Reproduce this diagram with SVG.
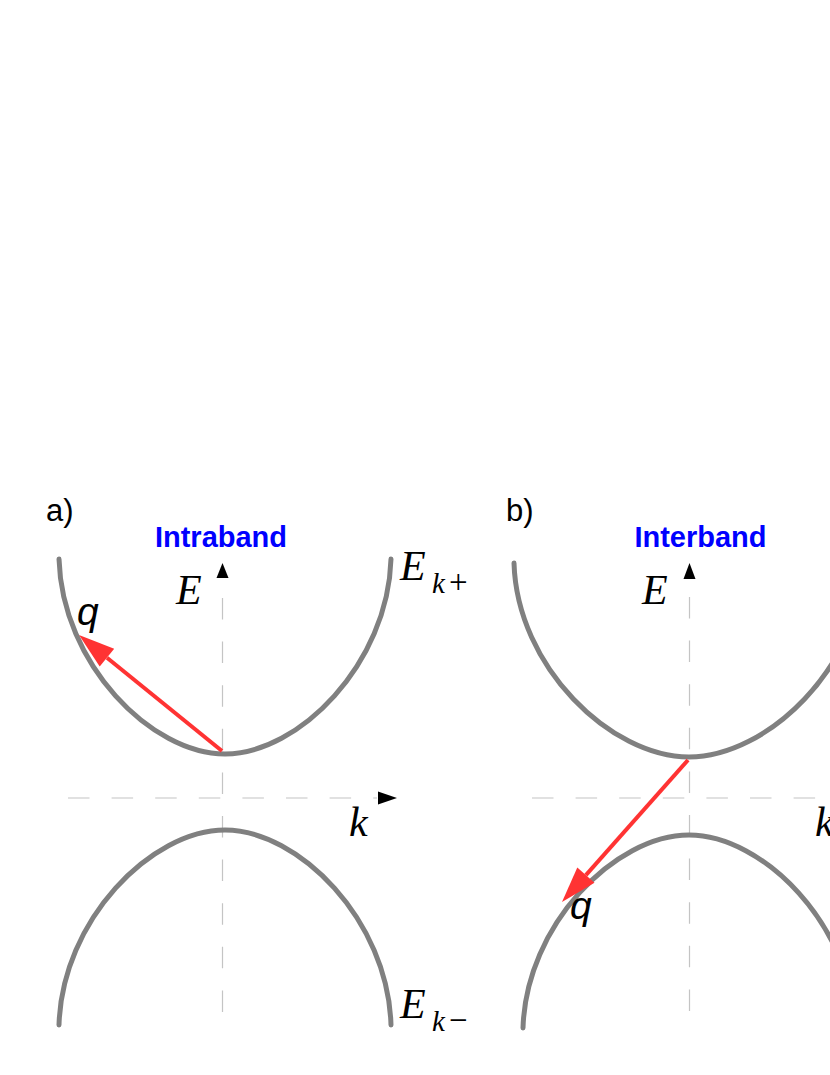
<svg xmlns="http://www.w3.org/2000/svg" width="830" height="1075" viewBox="0 0 830 1075">
  <style>
    .band { fill: none; stroke: #808080; stroke-width: 5; stroke-linecap: round; }
    .axis { fill: none; stroke: #c4c4c4; stroke-width: 1.2; stroke-dasharray: 21.5 22.1; }
    .axhead { fill: #000000; }
    .q { fill: none; stroke: #ff3333; stroke-width: 4; }
    .qhead { fill: #ff3333; }
    .panel { font-family: "Liberation Sans", Arial, sans-serif; font-size: 31px; fill: #000000; }
    .title { font-family: "Liberation Sans", Arial, sans-serif; font-size: 29px; font-weight: bold; fill: #0000ff; text-anchor: middle; }
    .math { font-family: "Liberation Serif", "Times New Roman", serif; font-style: italic; font-size: 42px; fill: #000000; }
    .sub { font-family: "Liberation Serif", "Times New Roman", serif; font-style: italic; font-size: 29px; fill: #000000; }
    .sign { font-family: "Liberation Serif", "Times New Roman", serif; font-size: 33px; fill: #000000; }
    .qlab { font-family: "Liberation Sans", Arial, sans-serif; font-style: italic; font-size: 39px; fill: #000000; }
  </style>

  <!-- Panel a -->
  <g id="panel-a-label"><text class="panel" x="46" y="521">a)</text></g>
  <g id="title-a"><text class="title" x="221" y="547">Intraband</text></g>
  <g id="axes-a">
    <line class="axis" x1="222.5" y1="598" x2="222.5" y2="1017"/>
    <polygon class="axhead" points="222.5,563 216.5,578 228.5,578"/>
    <line class="axis" x1="68" y1="798" x2="377" y2="798"/>
    <polygon class="axhead" points="397,798 378,791.5 378,804.5"/>
    <text class="math" x="176" y="604">E</text>
    <text class="math" x="349" y="836">k</text>
  </g>
  <g id="band-a-upper">
    <path class="band" d="M59,559 C62,664 151.5,754 225,754 C298.5,754 388,664 391,559"/>
    <text class="math" x="400" y="580">E</text>
    <text class="sub" x="432" y="593">k</text>
    <text class="sign" x="449" y="593">+</text>
  </g>
  <g id="band-a-lower">
    <path class="band" d="M59,1025 C62,920 151.5,830 225,830 C298.5,830 388,920 391,1025"/>
    <text class="math" x="400" y="1018">E</text>
    <text class="sub" x="432" y="1031">k</text>
    <text class="sign" x="449" y="1031">−</text>
  </g>

  <!-- Panel b -->
  <g id="panel-b-label"><text class="panel" x="506" y="521">b)</text></g>
  <g id="title-b"><text class="title" x="700.5" y="547">Interband</text></g>
  <g id="axes-b">
    <line class="axis" x1="689.5" y1="597" x2="689.5" y2="1017"/>
    <polygon class="axhead" points="689.5,563 683.5,579 695.5,579"/>
    <line class="axis" x1="532" y1="798" x2="830" y2="798"/>
    <text class="math" x="642" y="604">E</text>
    <text class="math" x="815" y="836">k</text>
  </g>
  <g id="band-b-upper">
    <path class="band" d="M514,563 C517,667 611,757 689,757 C767,757 861,667 864,563"/>
  </g>
  <g id="band-b-lower">
    <path class="band" d="M523,1028 C526,925 615,835 689,835 C763,835 852,925 855,1028"/>
  </g>

  <!-- Transitions (connectors) -->
  <g id="connectors">
    <g id="q-intraband">
      <line class="q" x1="222" y1="751" x2="107" y2="657.7"/>
      <polygon class="qhead" points="79,635 114.2,648.75 99.7,666.6"/>
    </g>
    <g id="q-interband">
      <line class="q" x1="688" y1="760" x2="585.9" y2="875.1"/>
      <polygon class="qhead" points="562,902 594.5,882.7 577.3,867.4"/>
    </g>
  </g>
  <g id="q-labels">
    <text class="qlab" x="77" y="625">q</text>
    <text class="qlab" x="570" y="919">q</text>
  </g>
</svg>
